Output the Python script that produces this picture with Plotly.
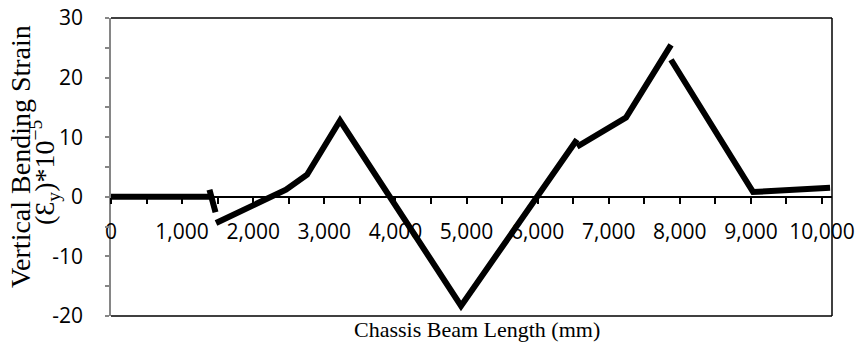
import plotly.graph_objects as go

# ---- data ----
seg1_x = [0, 1385]
seg1_y = [0.0, 0.0]
seg2_x = [1385, 1470]
seg2_y = [1.2, -2.6]
seg3_x = [1477, 2461, 2757, 3221, 4923, 6554]
seg3_y = [-4.4, 1.2, 3.7, 12.8, -18.3, 9.6]
seg4_x = [6554, 7243, 7876]
seg4_y = [8.4, 13.3, 25.5]
seg5_x = [7876, 9030, 10113]
seg5_y = [23.0, 0.8, 1.5]

x_tickvals = [0, 1000, 2000, 3000, 4000, 5000, 6000, 7000, 8000, 9000, 10000]
x_ticktext = ["0", "1,000", "2,000", "3,000", "4,000", "5,000", "6,000",
              "7,000", "8,000", "9,000", "10,000"]
y_tickvals = [-20, -10, 0, 10, 20, 30]
y_ticktext = ["-20", "-10", "0", "10", "20", "30"]

x_title = "Chassis Beam Length (mm)"
y_title_1 = "Vertical Bending Strain"
y_title_2 = "(Ɛ<sub>y</sub>)*10<sup>−5</sup>"

segments = [(seg1_x, seg1_y), (seg2_x, seg2_y), (seg3_x, seg3_y),
            (seg4_x, seg4_y), (seg5_x, seg5_y)]

fig = go.Figure()
for sx, sy in segments:
    fig.add_trace(go.Scatter(x=sx, y=sy, mode="lines",
                             line=dict(color="black", width=6),
                             showlegend=False, hoverinfo="skip"))

W, H = 858, 343
L, R, T, B = 111, 26, 18, 27
pw = W - L - R
ph = H - T - B

tick_font = dict(family="Open Sans", size=21, color="black")

fig.update_layout(
    width=W, height=H,
    margin=dict(l=L, r=R, t=T, b=B, pad=0, autoexpand=False),
    paper_bgcolor="white", plot_bgcolor="white",
    showlegend=False,
    xaxis=dict(
        range=[0, 10140], anchor="free", position=0.4, automargin=False,
        tickvals=x_tickvals, ticktext=x_ticktext,
        showgrid=False, zeroline=False,
        showline=True, linecolor="black", linewidth=1.5,
        ticks="outside", ticklen=6, tickcolor="black", tickwidth=1.5,
        minor=dict(dtick=500, tick0=0, ticks="outside", ticklen=6,
                   tickcolor="black", tickwidth=1.5, showgrid=False),
        tickfont=tick_font, ticklabelstandoff=10,
    ),
    yaxis=dict(
        range=[-20, 30], domain=[0, 1], automargin=False,
        tickvals=y_tickvals, ticktext=y_ticktext,
        showgrid=False, zeroline=False,
        showline=True, linecolor="#868686", linewidth=1.5,
        ticks="outside", ticklen=4, tickcolor="#868686", tickwidth=1.5,
        minor=dict(dtick=5, tick0=0, ticks="outside", ticklen=4,
                   tickcolor="#868686", tickwidth=1.5, showgrid=False),
        tickfont=tick_font, ticklabelstandoff=18,
    ),
    shapes=[
        dict(type="line", xref="paper", yref="paper", x0=0, x1=1, y0=1, y1=1,
             line=dict(color="black", width=1.5), layer="below"),
        dict(type="line", xref="paper", yref="paper", x0=1, x1=1, y0=0, y1=1,
             line=dict(color="black", width=1.5), layer="below"),
        dict(type="line", xref="paper", yref="paper", x0=0, x1=1, y0=0, y1=0,
             line=dict(color="black", width=1.5), layer="below"),
    ],
    annotations=[
        dict(text=x_title, xref="paper", yref="paper",
             x=(352 - L) / pw, xanchor="left",
             y=(H - B - 329) / ph, yanchor="middle",
             showarrow=False,
             font=dict(family="Liberation Serif", size=22, color="black")),
        dict(text=y_title_1, xref="paper", yref="paper",
             x=(20 - L) / pw, xanchor="center",
             y=(H - B - 157) / ph, yanchor="middle",
             textangle=-90, showarrow=False,
             font=dict(family="Liberation Serif", size=28, color="black")),
        dict(text=y_title_2, xref="paper", yref="paper",
             x=(44 - L) / pw, xanchor="center",
             y=(H - B - 172) / ph, yanchor="middle",
             textangle=-90, showarrow=False,
             font=dict(family="Liberation Serif", size=28, color="black")),
    ],
)

fig.write_html(
    "out.html",
    config={"displayModeBar": False},
    post_script="document.body.style.margin='0';document.body.style.padding='0';",
)
